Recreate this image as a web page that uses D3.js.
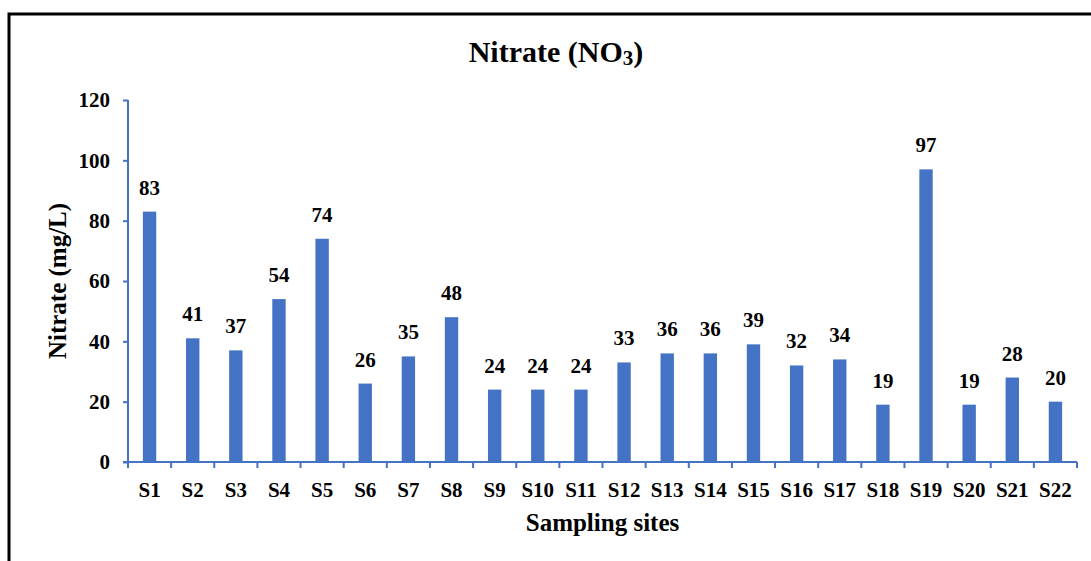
<!DOCTYPE html>
<html>
<head>
<meta charset="utf-8">
<script src="https://cdn.jsdelivr.net/npm/d3@7"></script>
<style>
  body { margin: 0; background: #fff; }
  text { font-family: "Liberation Serif", "Times New Roman", serif; font-weight: bold; fill: #000; }
</style>
</head>
<body>
<div id="chart-area"></div>
<script>
// data
var sites = ["S1","S2","S3","S4","S5","S6","S7","S8","S9","S10","S11",
             "S12","S13","S14","S15","S16","S17","S18","S19","S20","S21","S22"];
var nitrate = [83,41,37,54,74,26,35,48,24,24,24,33,36,36,39,32,34,19,97,19,28,20];
var yTicks = [0,20,40,60,80,100,120];

var W = 1091, H = 561;
var margin = {left: 128, right: 14, top: 100, bottom: 99};
var width = W - margin.left - margin.right;
var height = H - margin.top - margin.bottom;
var blue = "#4472C4";

var svg = d3.select("#chart-area").append("svg")
  .attr("width", W)
  .attr("height", H);

// outer frame (runs off the right and bottom edge)
svg.append("rect")
  .attr("x", 9).attr("y", 14)
  .attr("width", 1200).attr("height", 700)
  .attr("fill", "none")
  .attr("stroke", "#000")
  .attr("stroke-width", 3);

var g = svg.append("g")
  .attr("transform", "translate(" + margin.left + "," + margin.top + ")");

var x = d3.scaleBand().domain(sites).range([0, width])
  .paddingInner(0.69).paddingOuter(0.345);
var y = d3.scaleLinear().domain([0, 120]).range([height, 0]);

// bars
g.selectAll("rect.bar").data(nitrate)
  .enter().append("rect")
  .attr("class", "bar")
  .attr("x", (d, i) => x(sites[i]))
  .attr("y", d => y(d))
  .attr("width", x.bandwidth())
  .attr("height", d => height - y(d))
  .attr("fill", blue);

// value labels
g.selectAll("text.val").data(nitrate)
  .enter().append("text")
  .attr("class", "val")
  .attr("x", (d, i) => x(sites[i]) + x.bandwidth() / 2)
  .attr("y", d => y(d) - 17)
  .attr("text-anchor", "middle")
  .attr("font-size", "21px")
  .text(d => d);

// y axis
var leftAxis = d3.axisLeft(y).tickValues(yTicks).tickSize(5).tickPadding(13);
var yAxisGroup = g.append("g").call(leftAxis);
yAxisGroup.select(".domain").attr("stroke", blue).attr("stroke-width", 2)
  .attr("d", "M0," + y(120) + "V" + y(0));
yAxisGroup.selectAll(".tick line").attr("stroke", blue).attr("stroke-width", 2);
yAxisGroup.selectAll(".tick text").attr("font-size", "21px").attr("fill", "#000");

// x axis: line with ticks at category boundaries
var step = x.step();
g.append("line")
  .attr("x1", -5).attr("x2", width)
  .attr("y1", height).attr("y2", height)
  .attr("stroke", blue).attr("stroke-width", 2);
g.selectAll("line.xtick").data(d3.range(sites.length + 1))
  .enter().append("line")
  .attr("class", "xtick")
  .attr("x1", i => i * step).attr("x2", i => i * step)
  .attr("y1", height).attr("y2", height + 6)
  .attr("stroke", blue).attr("stroke-width", 2);
g.selectAll("text.xlab").data(sites)
  .enter().append("text")
  .attr("class", "xlab")
  .attr("x", d => x(d) + x.bandwidth() / 2)
  .attr("y", height + 35)
  .attr("text-anchor", "middle")
  .attr("font-size", "21px")
  .text(d => d);

// titles
var title = svg.append("text")
  .attr("x", 556).attr("y", 62)
  .attr("text-anchor", "middle")
  .attr("font-size", "30px")
  .text("Nitrate (NO");
title.append("tspan").attr("font-size", "21px").attr("dy", 3).text("3");
title.append("tspan").attr("dy", -3).text(")");

svg.append("text")
  .attr("x", margin.left + width / 2).attr("y", 531)
  .attr("text-anchor", "middle")
  .attr("font-size", "25px")
  .text("Sampling sites");

svg.append("text")
  .attr("transform", "translate(66," + (margin.top + height / 2) + ") rotate(-90)")
  .attr("text-anchor", "middle")
  .attr("font-size", "25px")
  .text("Nitrate (mg/L)");
</script>
</body>
</html>
